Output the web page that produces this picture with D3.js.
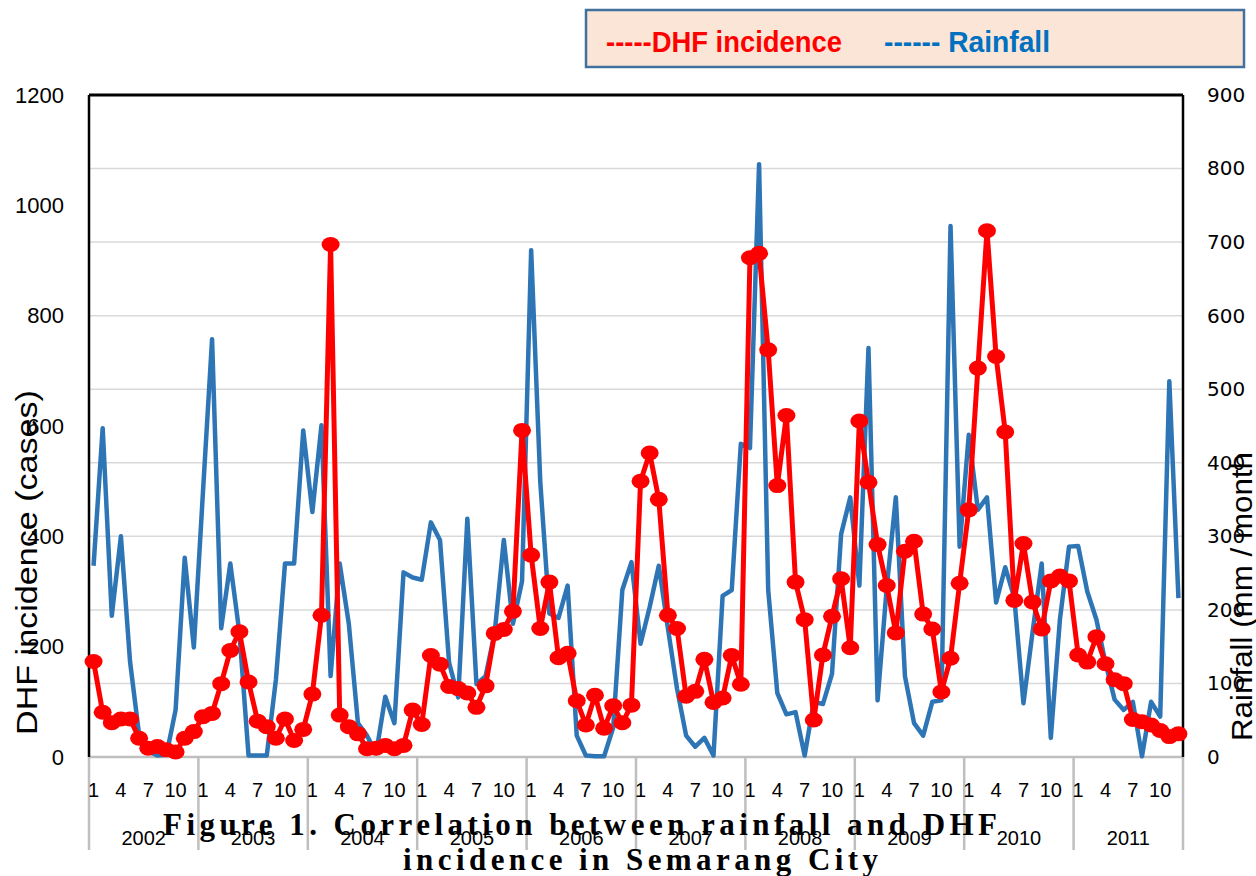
<!DOCTYPE html>
<html>
<head>
<meta charset="utf-8">
<script src="https://cdn.jsdelivr.net/npm/d3@7"></script>
<style>
  html, body { margin: 0; padding: 0; background: #fff; overflow: hidden; }
  svg { display: block; }
</style>
</head>
<body>
<svg id="chart" width="1256" height="876"></svg>
<script>
// Years on the outer category level, months shown on the inner level
const years = ["2002", "2003", "2004", "2005", "2006", "2007", "2008", "2009", "2010", "2011"];
const tickMonths = [1, 4, 7, 10];

// Monthly DHF cases, Jan 2002 - Dec 2011
const dhfCases = [
  173, 81, 62, 69, 69, 34, 16, 19, 13, 9, 34, 46,
  73, 79, 133, 193, 227, 136, 65, 55, 34, 69, 30, 50,
  114, 257, 929, 76, 55, 42, 15, 16, 21, 15, 21, 85,
  59, 184, 168, 128, 124, 116, 90, 129, 224, 231, 264, 592,
  366, 233, 317, 180, 188, 102, 58, 112, 52, 93, 62, 94,
  500, 551, 467, 257, 233, 110, 119, 177, 99, 107, 184, 132,
  905, 913, 738, 492, 619, 317, 249, 67, 185, 255, 323, 198,
  609, 498, 385, 311, 225, 373, 391, 259, 232, 118, 179, 315,
  448, 705, 954, 726, 589, 284, 387, 281, 232, 319, 328, 319,
  185, 172, 218, 169, 140, 133, 68, 64, 58, 48, 37, 42
];

// Monthly rainfall (mm / month), Jan 2002 - Dec 2011
const rainfallMm = [
  260, 447, 192, 300, 130, 30, 8, 2, 3, 64, 271, 149,
  360, 568, 175, 263, 169, 2, 2, 2, 105, 263, 263, 444,
  333, 451, 110, 263, 181, 46, 29, 5, 82, 46, 251, 244,
  241, 319, 295, 128, 81, 324, 99, 110, 169, 295, 181, 239,
  689, 374, 195, 189, 233, 29, 2, 1, 1, 40, 227, 265,
  154, 204, 260, 175, 93, 29, 14, 26, 2, 219, 227, 426,
  420, 806, 227, 87, 58, 61, 2, 75, 72, 113, 303, 353,
  233, 556, 77, 230, 353, 110, 46, 29, 75, 77, 722, 286,
  438, 336, 353, 210, 258, 216, 73, 170, 263, 26, 187, 286,
  287, 225, 187, 128, 78, 64, 75, 1, 75, 55, 511, 216
];

const leftTicks = [0, 200, 400, 600, 800, 1000, 1200];
const rightTicks = [0, 100, 200, 300, 400, 500, 600, 700, 800, 900];

const svg = d3.select("#chart");
const plot = { left: 89, right: 1183, top: 95, bottom: 757 };

const periods = d3.range(years.length * 12);
const x = d3.scaleBand().domain(periods).range([plot.left, plot.right]).padding(0);
const cx = i => x(i) + x.bandwidth() / 2;
const yL = d3.scaleLinear().domain([0, 1200]).range([plot.bottom, plot.top]);
const yR = d3.scaleLinear().domain([0, 900]).range([plot.bottom, plot.top]);

// Horizontal gridlines (rainfall axis)
svg.append("g")
  .selectAll("line")
  .data(rightTicks.filter(v => v > 0 && v < 900))
  .join("line")
  .attr("x1", plot.left).attr("x2", plot.right)
  .attr("y1", d => yR(d)).attr("y2", d => yR(d))
  .attr("stroke", "#d9d9d9").attr("stroke-width", 1.5);

// Category axis: baseline, year separators, month and year labels
svg.append("line")
  .attr("x1", plot.left).attr("x2", plot.right)
  .attr("y1", plot.bottom).attr("y2", plot.bottom)
  .attr("stroke", "#bfbfbf").attr("stroke-width", 2.5);

svg.append("g")
  .selectAll("line")
  .data(d3.range(years.length + 1))
  .join("line")
  .attr("x1", k => k < years.length ? x(k * 12) : plot.right)
  .attr("x2", k => k < years.length ? x(k * 12) : plot.right)
  .attr("y1", plot.bottom).attr("y2", 850)
  .attr("stroke", "#bfbfbf").attr("stroke-width", 2.5);

const monthAxis = d3.axisBottom(x)
  .tickValues(periods.filter(i => tickMonths.includes(i % 12 + 1)))
  .tickFormat(i => String(i % 12 + 1))
  .tickSize(0);
const gm = svg.append("g").attr("transform", `translate(0,${plot.bottom})`).call(monthAxis);
gm.select(".domain").remove();
gm.selectAll("text")
  .attr("y", 40).attr("dy", 0)
  .attr("font-family", "'Liberation Sans', Arial, sans-serif")
  .attr("font-size", 20).attr("fill", "#000");

svg.append("g")
  .selectAll("text")
  .data(years)
  .join("text")
  .attr("x", (d, k) => (x(k * 12) + (k + 1 < years.length ? x((k + 1) * 12) : plot.right)) / 2)
  .attr("y", 845)
  .attr("text-anchor", "middle")
  .attr("font-family", "'Liberation Sans', Arial, sans-serif")
  .attr("font-size", 20).attr("fill", "#000")
  .text(d => d);

// Value axes
const gl = svg.append("g").attr("transform", `translate(${plot.left},0)`)
  .call(d3.axisLeft(yL).tickValues(leftTicks).tickFormat(d3.format("d")).tickSize(0).tickPadding(25));
gl.select(".domain").remove();
gl.selectAll("text")
  .attr("font-family", "'Liberation Sans', Arial, sans-serif")
  .attr("font-size", 22).attr("fill", "#000");

const gr = svg.append("g").attr("transform", `translate(${plot.right},0)`)
  .call(d3.axisRight(yR).tickValues(rightTicks).tickFormat(d3.format("d")).tickSize(0).tickPadding(24));
gr.select(".domain").remove();
gr.selectAll("text")
  .attr("font-family", "'DejaVu Sans', Verdana, sans-serif")
  .attr("font-size", 20).attr("fill", "#000");

// Plot frame
svg.append("line").attr("x1", plot.left).attr("x2", plot.left)
  .attr("y1", plot.top).attr("y2", plot.bottom)
  .attr("stroke", "#000").attr("stroke-width", 2.5);
svg.append("line").attr("x1", plot.left).attr("x2", plot.right)
  .attr("y1", plot.top).attr("y2", plot.top)
  .attr("stroke", "#000").attr("stroke-width", 3);
svg.append("line").attr("x1", plot.right).attr("x2", plot.right)
  .attr("y1", plot.top).attr("y2", plot.bottom)
  .attr("stroke", "#000").attr("stroke-width", 2.5);

// Rainfall series (right axis)
svg.append("path")
  .datum(rainfallMm)
  .attr("fill", "none")
  .attr("stroke", "#2e75b6")
  .attr("stroke-width", 4.5)
  .attr("stroke-linejoin", "round")
  .attr("d", d3.line().x((d, i) => cx(i)).y(d => yR(d)));

// DHF incidence series (left axis) with markers
svg.append("path")
  .datum(dhfCases)
  .attr("fill", "none")
  .attr("stroke", "#ff0000")
  .attr("stroke-width", 5)
  .attr("stroke-linejoin", "round")
  .attr("d", d3.line().x((d, i) => cx(i)).y(d => yL(d)));

svg.append("g")
  .selectAll("ellipse")
  .data(dhfCases)
  .join("ellipse")
  .attr("cx", (d, i) => cx(i))
  .attr("cy", d => yL(d))
  .attr("rx", 9).attr("ry", 7.5)
  .attr("fill", "#ff0000");

// Axis titles
svg.append("text")
  .attr("transform", "translate(37,735) rotate(-90)")
  .attr("font-family", "'Liberation Sans', Arial, sans-serif")
  .attr("font-size", 29).attr("fill", "#000")
  .attr("textLength", 345).attr("lengthAdjust", "spacingAndGlyphs")
  .text("DHF incidence (cases)");

svg.append("text")
  .attr("transform", "translate(1252,741) rotate(-90)")
  .attr("font-family", "'Liberation Sans', Arial, sans-serif")
  .attr("font-size", 29).attr("fill", "#000")
  .attr("textLength", 289).attr("lengthAdjust", "spacingAndGlyphs")
  .text("Rainfall (mm / month");

// Legend box
const legend = svg.append("g");
legend.append("rect")
  .attr("x", 586).attr("y", 10).attr("width", 658).attr("height", 57)
  .attr("fill", "#fbe5d6").attr("stroke", "#41719c").attr("stroke-width", 2.5);
legend.append("text")
  .attr("x", 606).attr("y", 52)
  .attr("font-family", "'Liberation Sans', Arial, sans-serif")
  .attr("font-weight", "bold").attr("font-size", 29).attr("fill", "#ff0000")
  .attr("textLength", 236).attr("lengthAdjust", "spacingAndGlyphs")
  .text("-----DHF incidence");
legend.append("text")
  .attr("x", 884).attr("y", 52)
  .attr("font-family", "'Liberation Sans', Arial, sans-serif")
  .attr("font-weight", "bold").attr("font-size", 29).attr("fill", "#0070c0")
  .attr("textLength", 166).attr("lengthAdjust", "spacingAndGlyphs")
  .text("------ Rainfall");

// Figure caption
const caption = svg.append("g")
  .attr("font-family", "'Liberation Serif', 'Times New Roman', serif")
  .attr("font-weight", "bold").attr("font-size", 31).attr("fill", "#000");
caption.append("text")
  .attr("x", 163).attr("y", 835)
  .attr("textLength", 834).attr("lengthAdjust", "spacing")
  .text("Figure 1. Correlation between rainfall and DHF");
caption.append("text")
  .attr("x", 403).attr("y", 870)
  .attr("textLength", 475).attr("lengthAdjust", "spacing")
  .text("incidence in Semarang City");
</script>
</body>
</html>
